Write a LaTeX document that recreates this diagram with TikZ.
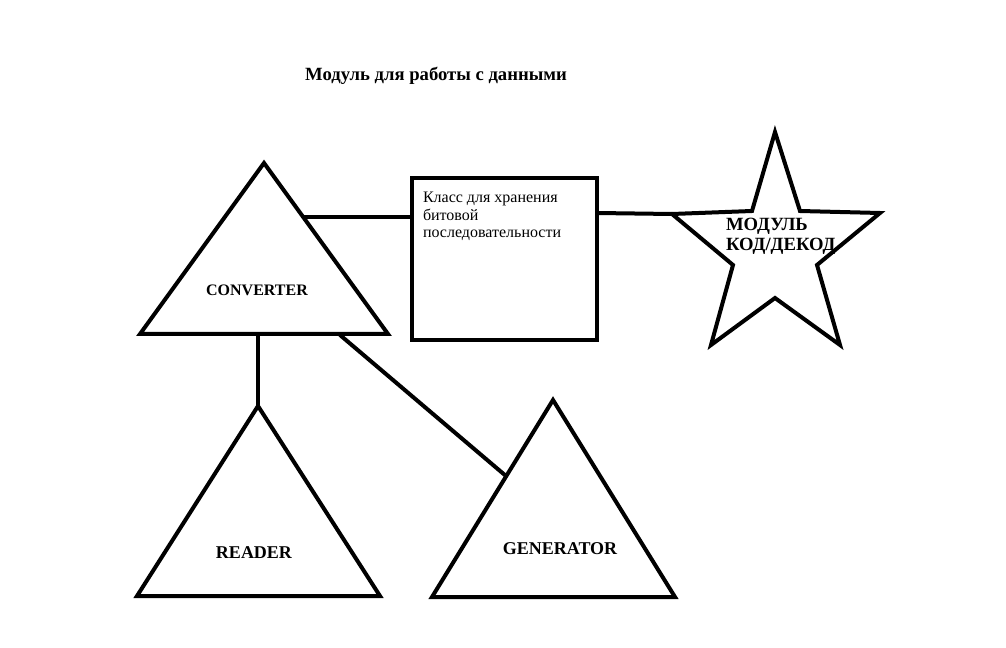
\documentclass[tikz,border=0pt]{standalone}
\usepackage{fontspec}
\setmainfont{Liberation Serif}

\tikzset{every picture/.style={line width=3pt}}
\tikzset{lbl/.style={inner sep=0.75pt, font=\fontsize{13.5}{16}\selectfont\bfseries}}

\begin{document}
\begin{tikzpicture}[x=0.75pt,y=0.75pt,yscale=-1,xscale=1, line join=miter]
	\useasboundingbox (0,0) rectangle (1006,648);
	% Corners of the shapes
	\coordinate (cvTop) at (264,163); \coordinate (cvL) at (140,334); \coordinate (cvR) at (388,334);
	\coordinate (rdTop) at (258,406); \coordinate (rdL) at (137,596); \coordinate (rdR) at (380,596);
	\coordinate (gnTop) at (553,400); \coordinate (gnL) at (432,597); \coordinate (gnR) at (675,597);
	\coordinate (bxNW) at (412,178); \coordinate (bxSE) at (597,340);
	
	% Draw triangles
	\draw (cvTop) -- (cvR) -- (cvL) -- cycle ;
	\draw (rdTop) -- (rdR) -- (rdL) -- cycle ;
	\draw (gnTop) -- (gnR) -- (gnL) -- cycle ;
	
	% Draw rectangle
	\draw (bxNW) rectangle (bxSE) ;
	
	% Draw star
	\draw (775,132) -- (800,211) -- (880,213) -- (817,265) -- (840,345) -- (775,298) -- (711,345) -- (733,265) -- (672,214) -- (752,211) -- cycle ;
	\coordinate (stL) at (672,214);
	
	% Draw straight lines
	\coordinate (cvE) at (304,217); \coordinate (bxW) at (412,217);
	\coordinate (bxE) at (597,213);
	\coordinate (cvB1) at (258,334); \coordinate (cvB2) at (340,335); \coordinate (gnW) at (506,476);
	\draw (cvE) -- (bxW) ;
	\draw (bxE) -- (stL) ;
	\draw (cvB1) -- (rdTop) ;
	\draw (cvB2) -- (gnW) ;
	
	% Add text nodes
	\node (title) [lbl, font=\fontsize{14}{16}\selectfont\bfseries] at (436,76) {Модуль для работы с данными};
	\node (cls) [anchor=north west, inner sep=0.75pt, align=left, font=\fontsize{12}{13.3}\selectfont] at (420,189) {Класс для хранения\\битовой\\последовательности};
	\node (cv) [lbl, font=\fontsize{12}{14}\selectfont\bfseries] at (257,290) {CONVERTER};
	\node (rd) [lbl] at (254,553) {READER};
	\node (gn) [lbl] at (560,549) {GENERATOR};
	\node (st) [lbl, anchor=north west, align=left, font=\fontsize{14}{14.8}\selectfont\bfseries] at (723,215) {МОДУЛЬ\\КОД/ДЕКОД};
\end{tikzpicture}
\end{document}
